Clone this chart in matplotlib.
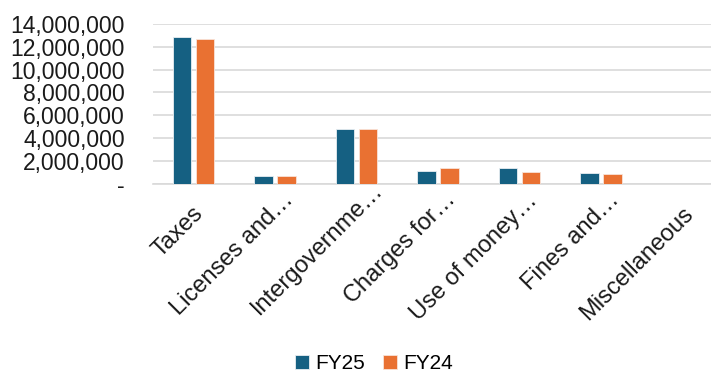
import matplotlib
matplotlib.use("Agg")
import matplotlib.pyplot as plt
import matplotlib.transforms as mtransforms
import numpy as np
from matplotlib.ticker import FuncFormatter

categories = ["Taxes", "Licenses and\u2026", "Intergovernme\u2026", "Charges for\u2026",
              "Use of money\u2026", "Fines and\u2026", "Miscellaneous"]
fy25 = [12860000, 670000, 4820000, 1140000, 1340000, 900000, 0]
fy24 = [12680000, 670000, 4770000, 1400000, 990000, 880000, 0]

# pixel nudges (right, down) for each rotated category label
label_offsets = [(11, 31), (19, 17), (27, 7), (19, 17), (19, 18), (19, 17), (12, 31)]

plt.rcParams["font.family"] = ["Liberation Sans", "DejaVu Sans"]

fig = plt.figure(figsize=(7.11, 3.75), dpi=100)
# plot area runs slightly past the right edge of the canvas
ax = fig.add_axes([0.2148, 0.51, 0.8024, 0.426])

x = np.arange(len(categories))
w = 0.23
off = 0.141
ax.bar(x - off, fy25, w, color="#156082", edgecolor="#E8EEF2", linewidth=0.6, label="FY25", zorder=3)
ax.bar(x + off, fy24, w, color="#E97132", edgecolor="#F8E3D8", linewidth=0.6, label="FY24", zorder=3)

ax.set_xlim(-0.5, len(categories) - 0.5)
ax.set_ylim(0, 14000000)
ax.set_yticks(np.arange(0, 14000001, 2000000))
ax.yaxis.set_major_formatter(FuncFormatter(lambda v, p: "-" if v == 0 else f"{v:,.0f}"))
ax.grid(axis="y", color="#D9D9D9", linewidth=1.2, zorder=0)
for s in ["top", "right", "left"]:
    ax.spines[s].set_visible(False)
ax.spines["bottom"].set_color("#D9D9D9")
ax.spines["bottom"].set_linewidth(1.2)
ax.tick_params(axis="both", length=0, colors="#1a1a1a")
ax.tick_params(axis="y", pad=20, labelsize=16.5)
ax.tick_params(axis="x", pad=0, labelsize=17)
ax.set_xticks(x)
ax.set_xticklabels(categories, rotation=45, ha="right", va="baseline", rotation_mode="anchor")
for lbl, (dx, dy) in zip(ax.get_xticklabels(), label_offsets):
    shift = mtransforms.ScaledTranslation(dx / 100, -dy / 100, fig.dpi_scale_trans)
    lbl.set_transform(lbl.get_transform() + shift)

fig.legend(loc="center", bbox_to_anchor=(0.526, 0.03), ncol=2, frameon=False,
           fontsize=15, handlelength=0.65, handleheight=0.65, handletextpad=0.3, columnspacing=0.9,
           borderpad=0.1)

fig.savefig("out.png", dpi=100)
